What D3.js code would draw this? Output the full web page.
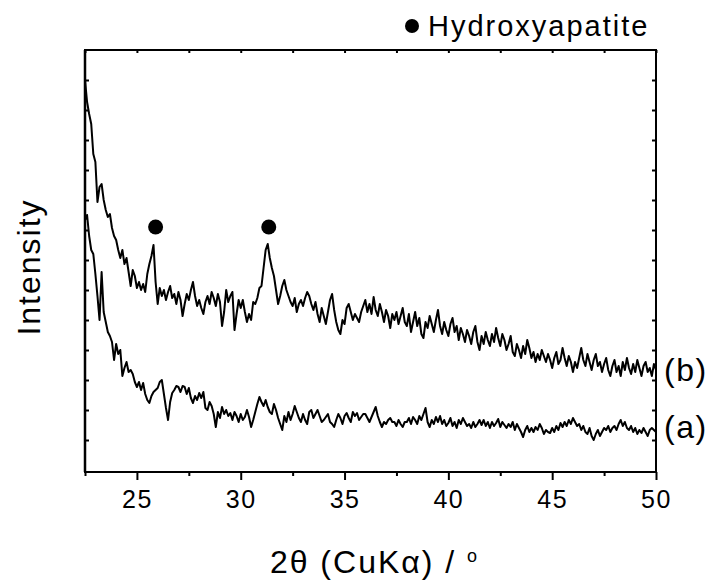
<!DOCTYPE html>
<html>
<head>
<meta charset="utf-8">
<script src="https://cdn.jsdelivr.net/npm/d3@7/dist/d3.min.js"></script>
<style>
  html, body { margin: 0; padding: 0; background: #fff; }
  svg { display: block; }
  text { font-family: "Liberation Sans", Arial, Helvetica, sans-serif; fill: #000; }
</style>
</head>
<body>
<svg id="chart" width="711" height="581"></svg>
<script>
// ---- data (intensity in arbitrary units, sampled every 0.1 degree from 22.5 to 50.0) ----
const angleStart = 22.5;
const angleStep = 0.1;

// (b) upper pattern
const seriesB = [
  392,370,358,348,318,
  310,270,285,288,272,262,255,258,244,236,
  232,222,214,222,208,214,200,186,202,196,
  184,190,182,188,180,198,208,216,227,190,
  168,184,176,182,172,180,186,174,178,168,
  180,172,156,168,178,172,182,190,176,166,
  172,164,158,170,176,168,180,174,166,178,
  170,146,160,182,170,176,180,142,158,172,
  164,172,160,150,158,152,170,168,174,184,
  186,204,222,228,214,204,196,182,168,176,
  186,192,182,176,170,166,174,160,168,172,
  166,174,180,176,168,162,170,158,150,164,
  156,148,160,172,178,162,150,142,138,152,
  148,164,168,160,152,158,154,150,160,166,
  172,160,168,158,175,162,156,168,160,150,
  162,156,144,158,152,160,148,156,164,150,
  146,158,140,150,160,146,154,138,134,150,
  144,156,148,140,152,162,146,138,150,142,
  136,148,154,140,146,132,144,138,130,142,
  136,128,140,146,130,122,136,128,140,132,
  126,138,130,144,134,126,138,132,122,128,
  136,120,116,128,122,114,126,118,132,124,
  114,120,110,118,112,122,116,110,118,112,
  104,114,120,108,112,124,114,106,116,110,
  100,110,104,114,124,112,106,118,110,102,
  112,118,106,110,100,108,114,102,96,106,
  112,100,106,96,110,102,114,104,98,108,
  100,112,104,96,106,110,100,104,96,108,
  102
];

// (a) lower pattern
const seriesA = [
  252,257,236,222,218,
  198,176,152,200,160,150,140,136,130,112,
  128,118,122,96,104,110,100,102,98,90,
  85,90,82,89,78,72,69,76,80,82,
  84,90,92,78,64,52,70,79,82,86,
  85,80,86,85,78,84,74,69,76,72,
  79,74,80,64,62,70,66,58,45,60,
  54,65,58,62,56,59,52,60,56,50,
  58,52,55,62,55,45,52,60,68,75,
  70,66,72,65,60,58,68,62,54,48,
  42,56,50,60,52,58,66,60,54,50,
  58,52,48,60,62,54,58,62,56,50,
  52,55,58,50,48,45,52,58,54,48,
  56,59,54,50,60,56,59,52,55,58,
  58,54,50,55,60,65,56,50,45,50,
  48,52,54,50,50,46,52,48,45,50,
  50,54,48,55,52,48,56,52,58,64,
  50,45,52,48,55,50,56,48,52,46,
  49,54,46,50,44,52,48,54,50,46,
  48,44,50,45,48,52,47,52,46,50,
  44,50,46,49,53,45,50,47,44,48,
  45,50,42,48,44,40,35,42,46,40,
  44,40,45,42,48,44,38,42,40,39,
  44,40,46,42,49,45,50,46,52,48,
  54,50,46,48,42,46,40,38,44,36,
  32,38,42,36,40,44,42,46,40,44,
  46,42,48,52,46,50,44,42,46,40,
  44,38,42,39,44,40,36,42,44,42,
  40
];

const seriesNames = ["(b)", "(a)"];
const seriesLabelLevels = [100, 43];

const xDomain = [22.5, 50];
const yDomain = [0, 422];
const xMajorTicks = [25, 30, 35, 40, 45, 50];
const xMinorTicks = [22.5, 27.5, 32.5, 37.5, 42.5, 47.5];
const yTicks = [32, 62, 92, 122, 152, 182, 212, 242, 272, 302, 332, 362, 392];

const peakAngles = [25.9, 31.35];
const peakLevels = [245, 245];

const legendText = "Hydroxyapatite";
const xTitle = "2\u03B8 (CuK\u03B1) / ";
const xTitleSup = "o";
const yTitle = "Intensity";

// ---- layout ----
const svg = d3.select("#chart");
const plot = { left: 85, right: 656, top: 50, bottom: 472 };

const x = d3.scaleLinear().domain(xDomain).range([plot.left, plot.right]);
const y = d3.scaleLinear().domain(yDomain).range([plot.bottom, plot.top]);

svg.append("defs").append("clipPath").attr("id", "clip")
  .append("rect")
  .attr("x", plot.left).attr("y", plot.top)
  .attr("width", plot.right - plot.left).attr("height", plot.bottom - plot.top);

const toPoints = arr => arr.map((v, i) => ({ a: angleStart + i * angleStep, v }));
const line = d3.line().x(d => x(d.a)).y(d => y(d.v));

const g = svg.append("g").attr("clip-path", "url(#clip)");
[seriesB, seriesA].forEach(s => {
  g.append("path")
    .datum(toPoints(s))
    .attr("d", line)
    .attr("fill", "none")
    .attr("stroke", "#000")
    .attr("stroke-width", 2)
    .attr("stroke-linejoin", "round");
});

// peak markers
svg.selectAll("circle.peak")
  .data(peakAngles.map((a, i) => ({ a, v: peakLevels[i] })))
  .enter().append("circle")
  .attr("class", "peak")
  .attr("cx", d => x(d.a)).attr("cy", d => y(d.v))
  .attr("r", 7.5).attr("fill", "#000");

// axes
const axisStyle = sel => {
  sel.select(".domain").remove();
  sel.selectAll(".tick line").attr("stroke", "#000").attr("stroke-width", 2);
};

// bottom major
svg.append("g")
  .attr("transform", `translate(0,${plot.bottom})`)
  .call(d3.axisBottom(x).tickValues(xMajorTicks).tickSize(8).tickPadding(10).tickFormat(d3.format("d")))
  .call(axisStyle)
  .call(s => s.selectAll("text")
    .style("font-family", '"Liberation Sans", Arial, sans-serif')
    .attr("font-size", 25).attr("letter-spacing", "1.5px"));

// bottom minor
svg.append("g")
  .attr("transform", `translate(0,${plot.bottom})`)
  .call(d3.axisBottom(x).tickValues(xMinorTicks).tickSize(4).tickFormat(""))
  .call(axisStyle);

// top ticks (inward)
svg.append("g")
  .attr("transform", `translate(0,${plot.top})`)
  .call(d3.axisBottom(x).tickValues(xMajorTicks.concat(xMinorTicks)).tickSize(3).tickFormat(""))
  .call(axisStyle);

// left ticks (inward)
svg.append("g")
  .attr("transform", `translate(${plot.left},0)`)
  .call(d3.axisRight(y).tickValues(yTicks).tickSize(4).tickFormat(""))
  .call(axisStyle);

// right ticks (inward)
svg.append("g")
  .attr("transform", `translate(${plot.right},0)`)
  .call(d3.axisLeft(y).tickValues(yTicks).tickSize(4).tickFormat(""))
  .call(axisStyle);

// frame
svg.append("rect")
  .attr("x", plot.left).attr("y", plot.top)
  .attr("width", plot.right - plot.left).attr("height", plot.bottom - plot.top)
  .attr("fill", "none").attr("stroke", "#000").attr("stroke-width", 2);
svg.append("line")
  .attr("x1", plot.left).attr("x2", plot.left)
  .attr("y1", plot.top).attr("y2", plot.bottom)
  .attr("stroke", "#000").attr("stroke-width", 2.5);

// series labels
svg.selectAll("text.slabel")
  .data(seriesNames.map((n, i) => ({ n, v: seriesLabelLevels[i] })))
  .enter().append("text")
  .attr("class", "slabel")
  .attr("x", plot.right + 8)
  .attr("y", d => y(d.v) + 8.5)
  .attr("font-size", 32)
  .attr("letter-spacing", "1.5px")
  .text(d => d.n);

// legend
svg.append("circle").attr("cx", 412).attr("cy", 26).attr("r", 7).attr("fill", "#000");
svg.append("text")
  .attr("x", 428).attr("y", 36)
  .attr("font-size", 29)
  .attr("letter-spacing", "2px")
  .text(legendText);

// x title
const xt = svg.append("text")
  .attr("x", (plot.left + plot.right) / 2 + 4)
  .attr("y", 573)
  .attr("text-anchor", "middle")
  .attr("font-size", 32)
  .attr("letter-spacing", "2px");
xt.append("tspan").text(xTitle);
xt.append("tspan").attr("font-size", 18).attr("dy", -11).text(xTitleSup);

// y title
svg.append("text")
  .attr("transform", `translate(40,${(plot.top + plot.bottom) / 2 + 6}) rotate(-90)`)
  .attr("text-anchor", "middle")
  .attr("font-size", 32)
  .attr("letter-spacing", "2px")
  .text(yTitle);
</script>
</body>
</html>
